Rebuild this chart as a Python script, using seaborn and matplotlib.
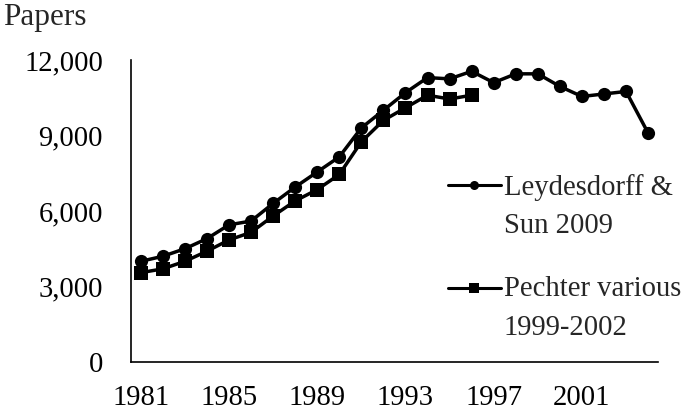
import numpy as np
import pandas as pd
import matplotlib
matplotlib.use("Agg")
import matplotlib.pyplot as plt
import seaborn as sns
from matplotlib.ticker import FuncFormatter
from matplotlib.offsetbox import HPacker

# =========================
# DATA
# =========================
years_ls = list(range(1981, 2005))
papers_ls = [4000, 4200, 4500, 4900, 5450, 5600, 6300, 6950, 7550, 8150, 9300, 10000,
             10700, 11300, 11250, 11550, 11100, 11450, 11450, 10950, 10550, 10650, 10750, 9100]

years_pe = list(range(1981, 1997))
papers_pe = [3550, 3700, 4000, 4400, 4850, 5150, 5800, 6400, 6850, 7450, 8750, 9600,
             10100, 10600, 10450, 10600]

label_ls = "Leydesdorff &\nSun 2009"
label_pe = "Pechter various\n1999-2002"

xticks = [1981, 1985, 1989, 1993, 1997, 2001]
yticks = [0, 3000, 6000, 9000, 12000]

df = pd.concat([
    pd.DataFrame({"year": years_ls, "papers": papers_ls, "source": label_ls}),
    pd.DataFrame({"year": years_pe, "papers": papers_pe, "source": label_pe}),
])

# =========================
# PLOT
# =========================
sns.set_style("white")
plt.rcParams["font.family"] = ["Liberation Serif", "DejaVu Serif"]
FS = 20.6

fig = plt.figure(figsize=(6.85, 4.12), dpi=100)
ax = fig.add_axes([0.191, 0.1214, 0.7696, 0.733])

sns.lineplot(data=df, x="year", y="papers", style="source",
             markers=["o", "s"], dashes=False, color="black",
             linewidth=2.5, markersize=9.5, markeredgewidth=0, ax=ax)

ax.set_xlim(1980.55, 2004.45)
ax.set_ylim(0, 12000)
ax.set_xticks(xticks)
ax.set_yticks(yticks)
ax.yaxis.set_major_formatter(FuncFormatter(lambda v, p: f"{int(v):,}"))
ax.tick_params(axis="both", length=0, labelsize=FS, colors="black")
ax.tick_params(axis="y", pad=20)
ax.tick_params(axis="x", pad=16.5)
ax.set_xlabel("")
ax.set_ylabel("")

sns.despine(ax=ax)
for s in ["left", "bottom"]:
    ax.spines[s].set_color("black")
    ax.spines[s].set_linewidth(1.2)

# legend: handle lined up with the first line of each label
handles, labels = ax.get_legend_handles_labels()
leg = ax.legend(handles, labels, loc="upper left", bbox_to_anchor=(0.6015, 0.624),
                frameon=False, fontsize=FS, handlelength=1.85, handletextpad=0.1,
                handleheight=1.15, labelspacing=1.3, borderaxespad=0, borderpad=0)
for t in leg.get_texts():
    t.set_linespacing(1.62)
for h in leg.legend_handles:
    h.set_markersize(6.5)
    h.set_linewidth(2.2)
for col in leg._legend_handle_box.get_children():
    for item in col.get_children():
        if isinstance(item, HPacker):
            item.align = "top"

fig.text(0.004, 0.958, "Papers", fontsize=22.5, va="center", ha="left")

fig.savefig("out.png", dpi=100)
